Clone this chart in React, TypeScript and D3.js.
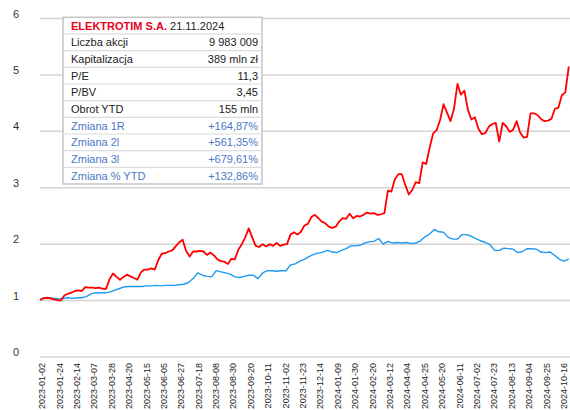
import React from "react";
import * as d3 from "d3";

const xLabels = ["2023-01-02","2023-01-24","2023-02-14","2023-03-07","2023-03-28","2023-04-20","2023-05-15","2023-06-05","2023-06-27","2023-07-18","2023-08-08","2023-08-30","2023-09-20","2023-10-11","2023-11-02","2023-11-23","2023-12-14","2024-01-09","2024-01-30","2024-02-20","2024-03-12","2024-04-04","2024-04-25","2024-05-20","2024-06-11","2024-07-02","2024-07-23","2024-08-13","2024-09-04","2024-09-25","2024-10-16"];
const labelEvery = 15; // trading days between labels
const totalDays = 456;
const yTicks = [0, 1, 2, 3, 4, 5, 6];

// ELEKTROTIM, normalised, sampled every 3 trading days
const redStep = 3;
const redValues = [
  1.01,1.04,1.05,1.04,1.02,1.01,1.00,1.09,1.12,1.14,
  1.17,1.18,1.17,1.24,1.23,1.23,1.22,1.23,1.21,1.21,
  1.38,1.48,1.42,1.37,1.42,1.46,1.43,1.40,1.37,1.50,
  1.55,1.55,1.57,1.55,1.72,1.83,1.84,1.87,1.89,1.96,
  2.03,2.08,1.88,1.78,1.87,1.87,1.88,1.87,1.81,1.85,
  1.80,1.73,1.70,1.69,1.65,1.74,1.73,1.90,2.00,2.12,
  2.28,2.12,1.97,1.95,2.00,1.96,2.00,1.97,2.02,1.97,
  1.99,2.00,2.17,2.21,2.17,2.22,2.33,2.36,2.48,2.52,
  2.46,2.40,2.37,2.31,2.29,2.31,2.40,2.46,2.45,2.54,
  2.46,2.50,2.49,2.52,2.56,2.54,2.55,2.52,2.53,2.55,
  2.95,2.93,3.15,3.24,3.24,3.05,2.88,2.96,3.10,3.08,
  3.45,3.42,3.71,3.96,4.02,4.20,4.48,4.33,4.18,4.40,
  4.84,4.65,4.72,4.38,4.21,4.25,4.05,3.95,3.97,4.08,
  4.13,4.15,3.82,4.15,4.09,3.99,4.03,4.18,3.98,3.89,
  3.90,4.32,4.32,4.29,4.22,4.18,4.19,4.22,4.40,4.42,
  4.64,4.69,5.15
];

// Benchmark index, normalised, sampled every 4 trading days
const blueStep = 4;
const blueValues = [
  1.02,1.05,1.05,1.04,1.03,1.04,1.05,1.04,1.05,1.05,
  1.07,1.12,1.14,1.14,1.14,1.15,1.18,1.21,1.24,1.25,
  1.25,1.25,1.25,1.26,1.26,1.27,1.26,1.27,1.27,1.27,
  1.28,1.29,1.32,1.39,1.49,1.45,1.43,1.42,1.53,1.51,
  1.49,1.47,1.42,1.41,1.43,1.45,1.45,1.39,1.49,1.53,
  1.53,1.52,1.53,1.53,1.63,1.65,1.70,1.73,1.78,1.82,
  1.84,1.86,1.89,1.86,1.85,1.89,1.92,1.97,1.97,1.98,
  2.02,2.04,2.05,2.10,2.00,2.05,2.02,2.03,2.02,2.03,
  2.01,2.02,2.06,2.13,2.18,2.26,2.22,2.21,2.12,2.09,
  2.09,2.17,2.17,2.14,2.10,2.06,2.03,1.99,1.89,1.89,
  1.93,1.92,1.91,1.85,1.87,1.92,1.92,1.91,1.86,1.85,
  1.86,1.80,1.73,1.70,1.74
];

const tableTitle = "ELEKTROTIM S.A.";
const tableDate = "21.11.2024";
const tableLabels = ["Liczba akcji","Kapitalizacja","P/E","P/BV","Obrot YTD","Zmiana 1R","Zmiana 2l","Zmiana 3l","Zmiana % YTD"];
const tableValues = ["9 983 009","389 mln zł","11,3","3,45","155 mln","+164,87%","+561,35%","+679,61%","+132,86%"];
const tableBlueRows = [false,false,false,false,false,true,true,true,true];

const W = 570, H = 410;
const FONT = "'Liberation Sans', Arial, sans-serif";

export default function App() {
  const x = d3.scaleLinear().domain([0, totalDays]).range([40, 568.8]);
  const y = d3.scaleLinear().domain([0, 6]).range([357, 18.5]);

  const line = d3.line<[number, number]>().x(d => x(d[0])).y(d => y(d[1]));
  const redPath = line(redValues.map((v, i) => [i * redStep, v] as [number, number])) || "";
  const bluePath = line(blueValues.map((v, i) => [i * blueStep, v] as [number, number])) || "";

  const tX = 63, tY = 17.3, tW = 199, rowH = 16.67;
  const nRows = tableLabels.length + 1;

  return (
    <svg width={W} height={H} style={{ position: "absolute", left: 0, top: 0, background: "#fff" }} fontFamily={FONT}>
      <rect x={0} y={0} width={W} height={H} fill="#fff" />
      {yTicks.map(t => (
        <g key={t}>
          <line x1={40} x2={570} y1={y(t)} y2={y(t)} stroke="#d4d4d4" strokeWidth={1.5} />
          <text x={16} y={y(t) - 1} fontSize={11} fill="#333" textAnchor="middle">{t}</text>
        </g>
      ))}
      {xLabels.map((lab, i) => (
        <text key={lab} transform={`translate(${x(i * labelEvery) + 2},363) rotate(-90)`} textAnchor="end" dy="0.35em" fontSize={9} fill="#222">{lab}</text>
      ))}
      <path d={bluePath} fill="none" stroke="#1e9af0" strokeWidth={1.4} strokeLinejoin="round" />
      <path d={redPath} fill="none" stroke="#ff0000" strokeWidth={1.8} strokeLinejoin="round" />
      <g>
        <rect x={tX} y={tY} width={tW} height={rowH * nRows} fill="#fff" stroke="#c4c4c4" strokeWidth={1.5} />
        {d3.range(1, nRows).map(r => (
          <line key={r} x1={tX} x2={tX + tW} y1={tY + r * rowH} y2={tY + r * rowH} stroke="#dcdcdc" strokeWidth={1.2} />
        ))}
        <text x={tX + 8} y={tY + 12.3} fontSize={11}>
          <tspan fill="#e8001c" fontWeight="bold">{tableTitle}</tspan>
          <tspan fill="#222"> {tableDate}</tspan>
        </text>
        {tableLabels.map((lab, i) => {
          const col = tableBlueRows[i] ? "#4a78c4" : "#222";
          const ty = tY + (i + 1) * rowH + 12.3;
          return (
            <g key={lab}>
              <text x={tX + 8} y={ty} fontSize={11} fill={col}>{lab}</text>
              <text x={tX + tW - 4} y={ty} fontSize={11} fill={col} textAnchor="end">{tableValues[i]}</text>
            </g>
          );
        })}
      </g>
    </svg>
  );
}
